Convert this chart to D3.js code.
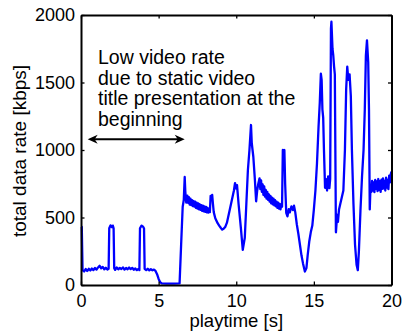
<!DOCTYPE html>
<html>
<head>
<meta charset="utf-8">
<script src="https://cdn.jsdelivr.net/npm/d3@7"></script>
<style>
  html, body { margin: 0; padding: 0; background: #fff; }
  svg text { font-family: "Liberation Sans", Arial, Helvetica, sans-serif; fill: #000; }
</style>
</head>
<body>
<div class="chart_frame"></div>
<script>
// playtime [s]
var playtime = [
    0.00, 0.05, 0.10, 0.20, 0.30, 0.40, 0.50, 0.60, 0.70, 0.80, 0.90, 1.00, 1.10, 1.20, 1.30, 1.40, 1.50, 1.60, 1.70, 1.78,
    1.82, 1.90, 2.00, 2.05, 2.10, 2.14, 2.20, 2.30, 2.40, 2.50, 2.60, 2.70, 2.80, 2.90, 3.00, 3.10, 3.20, 3.30, 3.40, 3.50,
    3.60, 3.70, 3.76, 3.80, 3.90, 4.00, 4.06, 4.10, 4.20, 4.30, 4.40, 4.50, 4.60, 4.70, 4.80, 4.90, 5.00, 5.10, 5.20, 5.50,
    6.00, 6.35, 6.45, 6.55, 6.62, 6.68, 6.72, 6.78, 6.85, 6.90, 6.95, 7.00, 7.05, 7.10, 7.15, 7.20, 7.25, 7.30, 7.35, 7.40,
    7.45, 7.50, 7.55, 7.60, 7.65, 7.70, 7.75, 7.80, 7.85, 7.90, 7.95, 8.00, 8.05, 8.10, 8.15, 8.20, 8.25, 8.30, 8.35, 8.40,
    8.45, 8.50, 8.55, 8.65, 8.80, 8.90, 9.00, 9.10, 9.20, 9.30, 9.40, 9.55, 9.70, 9.85, 9.92, 10.00, 10.05, 10.15, 10.30, 10.42,
    10.55, 10.65, 10.75, 10.85, 10.95, 11.00, 11.05, 11.10, 11.20, 11.28, 11.35, 11.42, 11.50, 11.55, 11.60, 11.65, 11.70, 11.75, 11.80, 11.85,
    11.90, 11.95, 12.00, 12.05, 12.10, 12.15, 12.20, 12.25, 12.30, 12.35, 12.40, 12.45, 12.50, 12.55, 12.60, 12.65, 12.70, 12.75, 12.80, 12.85,
    12.90, 12.95, 13.00, 13.05, 13.10, 13.15, 13.22, 13.30, 13.38, 13.45, 13.55, 13.65, 13.72, 13.80, 13.90, 14.00, 14.10, 14.20, 14.30, 14.42,
    14.52, 14.60, 14.70, 14.80, 14.90, 15.00, 15.10, 15.20, 15.30, 15.38, 15.45, 15.50, 15.55, 15.60, 15.65, 15.72, 15.78, 15.85, 15.92, 16.00,
    16.05, 16.10, 16.13, 16.20, 16.25, 16.30, 16.35, 16.42, 16.50, 16.55, 16.62, 16.70, 16.80, 16.90, 17.00, 17.08, 17.15, 17.22, 17.30, 17.38,
    17.45, 17.55, 17.65, 17.75, 17.83, 17.90, 18.00, 18.10, 18.20, 18.28, 18.35, 18.42, 18.50, 18.55, 18.60, 18.65, 18.70, 18.75, 18.80, 18.85,
    18.90, 18.95, 19.00, 19.05, 19.10, 19.15, 19.20, 19.25, 19.30, 19.35, 19.40, 19.45, 19.50, 19.55, 19.60, 19.65, 19.70, 19.75, 19.80, 19.85,
    19.90, 19.95, 20.00
];

// total data rate [kbps]
var data_rate = [
    430, 430, 110, 100, 118, 104, 120, 108, 122, 110, 126, 114, 130, 142, 124, 134, 116, 128, 114, 120,
    420, 442, 428, 440, 420, 125, 112, 130, 116, 127, 118, 130, 114, 126, 116, 129, 118, 127, 113, 123,
    110, 119, 110, 420, 440, 432, 418, 120, 110, 120, 108, 117, 109, 114, 104, 80, 45, 20, 12, 10,
    10, 12, 300, 580, 630, 800, 690, 610, 662, 608, 650, 596, 640, 592, 628, 585, 622, 580, 618, 572,
    610, 566, 604, 560, 598, 556, 592, 550, 588, 546, 582, 542, 578, 538, 572, 536, 566, 540, 660, 632,
    668, 600, 540, 495, 458, 440, 424, 410, 418, 432, 462, 540, 620, 700, 755, 715, 740, 600, 420, 260,
    350, 600, 850, 1000, 1185, 1050, 1000, 950, 780, 620, 700, 750, 790, 710, 775, 690, 745, 668, 730, 655,
    705, 640, 690, 630, 672, 618, 660, 605, 648, 598, 640, 590, 628, 582, 618, 572, 610, 566, 600, 560,
    598, 580, 1000, 975, 1000, 750, 535, 508, 562, 538, 582, 555, 588, 540, 450, 380, 300, 220, 160, 100,
    125, 220, 320, 390, 440, 560, 700, 900, 1170, 1350, 1565, 1520, 1300, 1240, 1000, 720, 785, 700, 805, 718,
    785, 1900, 1950, 1750, 1700, 1620, 1560, 390, 520, 468, 560, 600, 650, 700, 1000, 1450, 1617, 1520, 1560, 1400,
    1000, 600, 300, 150, 110, 250, 550, 800, 1000, 1300, 1700, 1812, 1650, 1300, 560, 740, 690, 772, 700, 760,
    688, 778, 712, 768, 695, 785, 705, 770, 690, 780, 712, 790, 715, 772, 700, 795, 722, 778, 710, 810,
    760, 820, 840
];

var x_ticks = [0, 5, 10, 15, 20],
    y_ticks = [0, 500, 1000, 1500, 2000];

var annotation_lines = ['Low video rate', 'due to static video', 'title presentation at the', 'beginning'];
var arrow_span = [0.43, 6.68], arrow_level = 1080;

var width = 403, height = 333,
    margin = {'top': 15, 'bottom': 48, 'left': 81, 'right': 11.5},
    plot_width = width - margin.left - margin.right,
    plot_height = height - margin.top - margin.bottom;

var svg = d3.select('.chart_frame').append('svg')
    .attr('width', width)
    .attr('height', height);

var chart = svg.append('g')
    .attr('transform', 'translate(' + margin.left + ',' + margin.top + ')');

var x = d3.scaleLinear().domain([0, 20]).range([0, plot_width]),
    y = d3.scaleLinear().domain([0, 2000]).range([plot_height, 0]);

// data line
var points = playtime.map(function(t, i) { return [t, data_rate[i]]; });
var line = d3.line()
    .x(function(d) { return x(d[0]); })
    .y(function(d) { return y(d[1]); });

chart.append('path')
    .datum(points)
    .attr('d', line)
    .attr('fill', 'none')
    .attr('stroke', '#0000ff')
    .attr('stroke-width', 2.3)
    .attr('stroke-linejoin', 'round');

// box with inward ticks on all sides
var tick_len = 3.5;
var axes = [
    {'axis': d3.axisBottom(x), 'shift': [0, plot_height], 'labels': true},
    {'axis': d3.axisTop(x), 'shift': [0, 0], 'labels': false},
    {'axis': d3.axisLeft(y), 'shift': [0, 0], 'labels': true},
    {'axis': d3.axisRight(y), 'shift': [plot_width, 0], 'labels': false}
];
axes.forEach(function(a, k) {
    var vals = (k < 2) ? x_ticks : y_ticks;
    var g = chart.append('g')
        .attr('transform', 'translate(' + a.shift[0] + ',' + a.shift[1] + ')')
        .call(a.axis.tickValues(vals).tickFormat(d3.format('d'))
            .tickSizeInner(-tick_len).tickSizeOuter(0).tickPadding(k < 2 ? 9 : 6));
    g.select('.domain').attr('stroke', '#000').attr('stroke-width', 2);
    g.selectAll('.tick line').attr('stroke', '#000').attr('stroke-width', 1.3);
    if (!a.labels) {
        g.selectAll('.tick text').remove();
    } else {
        g.selectAll('.tick text')
            .attr('font-size', 18)
            .attr('font-family', '"Liberation Sans", Arial, sans-serif')
            .attr('fill', '#000');
    }
});

// axis titles
svg.append('text')
    .attr('x', margin.left + plot_width / 2)
    .attr('y', 327)
    .attr('text-anchor', 'middle')
    .attr('font-size', 18.5)
    .text('playtime [s]');

svg.append('text')
    .attr('transform', 'translate(26,' + (margin.top + plot_height / 2 + 1) + ') rotate(-90)')
    .attr('text-anchor', 'middle')
    .attr('font-size', 19)
    .text('total data rate [kbps]');

// annotation text
var note = chart.append('text')
    .attr('font-size', 19.5);
annotation_lines.forEach(function(s, i) {
    note.append('tspan')
        .attr('x', 17)
        .attr('y', 49 + i * 20.7)
        .text(s);
});

// double arrow
var ax1 = x(arrow_span[0]), ax2 = x(arrow_span[1]), ay = y(arrow_level);
var head_len = 10, head_half = 4.5, notch = 3;
chart.append('line')
    .attr('x1', ax1 + 4).attr('x2', ax2 - 4)
    .attr('y1', ay).attr('y2', ay)
    .attr('stroke', '#000')
    .attr('stroke-width', 2);
chart.append('path')
    .attr('d', 'M' + ax1 + ',' + ay +
        'L' + (ax1 + head_len) + ',' + (ay - head_half) +
        'L' + (ax1 + head_len - notch) + ',' + ay +
        'L' + (ax1 + head_len) + ',' + (ay + head_half) + 'Z')
    .attr('fill', '#000');
chart.append('path')
    .attr('d', 'M' + ax2 + ',' + ay +
        'L' + (ax2 - head_len) + ',' + (ay - head_half) +
        'L' + (ax2 - head_len + notch) + ',' + ay +
        'L' + (ax2 - head_len) + ',' + (ay + head_half) + 'Z')
    .attr('fill', '#000');
</script>
</body>
</html>
